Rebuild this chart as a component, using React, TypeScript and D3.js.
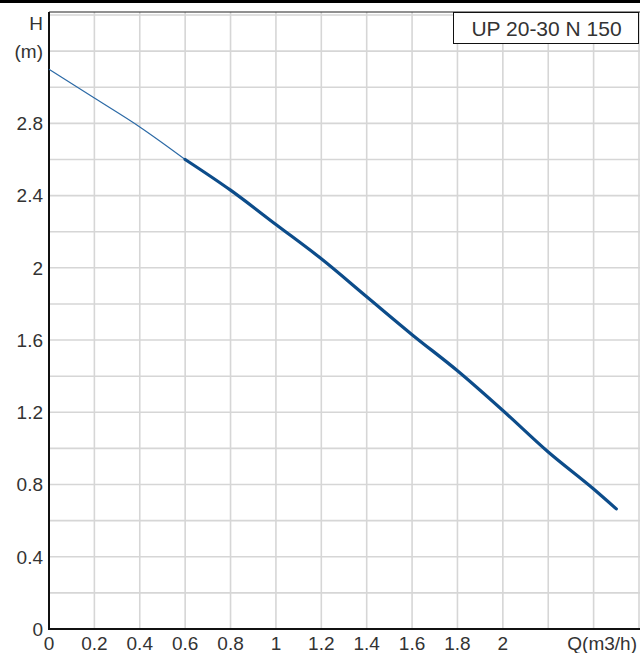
import React from "react";
import * as d3 from "d3";

const flowQ = [0, 0.2, 0.4, 0.6, 0.8, 1.0, 1.2, 1.4, 1.6, 1.8, 2.0, 2.2, 2.4, 2.5];
const headH = [3.1, 2.94, 2.78, 2.6, 2.43, 2.24, 2.05, 1.84, 1.63, 1.43, 1.21, 0.98, 0.775, 0.665];
const thinEndQ = 0.6;
const xGrid = [0, 0.2, 0.4, 0.6, 0.8, 1.0, 1.2, 1.4, 1.6, 1.8, 2.0, 2.2, 2.4, 2.6];
const yGrid = [0, 0.2, 0.4, 0.6, 0.8, 1.0, 1.2, 1.4, 1.6, 1.8, 2.0, 2.2, 2.4, 2.6, 2.8, 3.0, 3.2, 3.4];
const xTicks = [0, 0.2, 0.4, 0.6, 0.8, 1, 1.2, 1.4, 1.6, 1.8, 2];
const yTicks = [0, 0.4, 0.8, 1.2, 1.6, 2, 2.4, 2.8];
const xTitle = "Q(m3/h)";
const yTitle1 = "H";
const yTitle2 = "(m)";
const legendLabel = "UP 20-30 N 150";

const W = 640;
const H = 653;
const FONT = "'Liberation Sans', Arial, sans-serif";
const TXT = "#333";

export default function App() {
  const x = d3.scaleLinear().domain([0, 2.6]).range([49, 639]);
  const y = d3.scaleLinear().domain([0, 3.4]).range([629, 15]);
  const pts = flowQ.map((q, i) => ({ q, h: headH[i] }));
  const line = d3
    .line<{ q: number; h: number }>()
    .x((d) => x(d.q))
    .y((d) => y(d.h))
    .curve(d3.curveMonotoneX);
  const thin = pts.filter((d) => d.q <= thinEndQ);
  const thick = pts.filter((d) => d.q >= thinEndQ);
  const fmt = (v: number) => String(v);
  return (
    <svg
      width={W}
      height={H}
      style={{ position: "absolute", left: 0, top: 0, background: "#fff" }}
      fontFamily={FONT}
    >
      <rect x={0} y={0} width={W} height={H} fill="#fff" />
      <rect x={0} y={0} width={W} height={3} fill="#000" />
      {xGrid.map((v) => (
        <line key={"gx" + v} x1={x(v)} x2={x(v)} y1={12} y2={y(0)} stroke="#d6d6d6" strokeWidth={1.6} />
      ))}
      {yGrid.map((v) => (
        <line key={"gy" + v} x1={x(0)} x2={W} y1={y(v)} y2={y(v)} stroke="#d6d6d6" strokeWidth={1.6} />
      ))}
      <line x1={x(0)} x2={W} y1={12} y2={12} stroke="#222" strokeWidth={1} />
      <line x1={x(0)} x2={x(0)} y1={12} y2={y(0) + 1} stroke="#111" strokeWidth={2} />
      <line x1={x(0)} x2={W} y1={y(0)} y2={y(0)} stroke="#111" strokeWidth={2} />
      <path d={line(thin) || ""} fill="none" stroke="#2c6aa6" strokeWidth={1.2} />
      <path d={line(thick) || ""} fill="none" stroke="#0c4c8a" strokeWidth={3.2} strokeLinecap="round" />
      {yTicks.map((v) => (
        <text key={"yt" + v} x={43} y={y(v)} dy="0.36em" textAnchor="end" fontSize={19} fill={TXT}>
          {fmt(v)}
        </text>
      ))}
      <text x={43} y={30} textAnchor="end" fontSize={19} fill={TXT}>{yTitle1}</text>
      <text x={43} y={58} textAnchor="end" fontSize={19} fill={TXT}>{yTitle2}</text>
      {xTicks.map((v) => (
        <text key={"xt" + v} x={x(v)} y={650} textAnchor="middle" fontSize={19} fill={TXT}>
          {fmt(v)}
        </text>
      ))}
      <text x={637} y={650} textAnchor="end" fontSize={19} fill={TXT}>{xTitle}</text>
      <rect x={453.5} y={12.5} width={185} height={31} fill="#fff" stroke="#111" strokeWidth={1} />
      <text x={546.5} y={36} textAnchor="middle" fontSize={21} fill={TXT}>{legendLabel}</text>
    </svg>
  );
}
